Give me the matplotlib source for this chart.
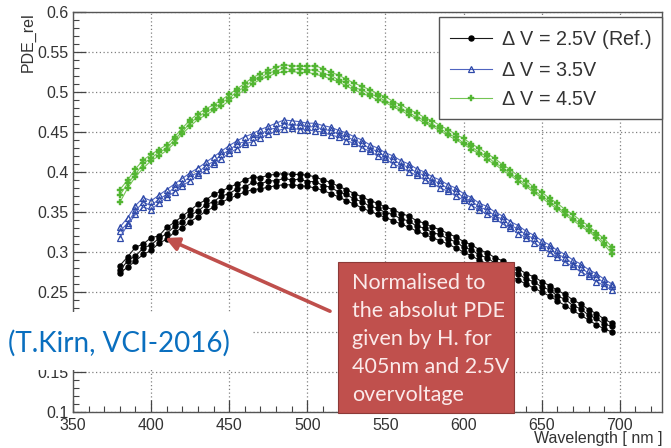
import matplotlib.pyplot as plt
from matplotlib.patches import Rectangle
from matplotlib.ticker import MultipleLocator

# wavelength scan, 5 nm steps
wavelength = list(range(380, 700, 5))

# three scans per overvoltage
pde_25 = [
    [0.283, 0.294, 0.306, 0.310, 0.318, 0.320, 0.331, 0.337,
     0.345, 0.352, 0.360, 0.365, 0.372, 0.376, 0.381, 0.385,
     0.390, 0.394, 0.393, 0.396, 0.397, 0.398, 0.397, 0.397,
     0.396, 0.394, 0.390, 0.387, 0.382, 0.378, 0.373, 0.369,
     0.364, 0.361, 0.356, 0.353, 0.348, 0.345, 0.339, 0.336,
     0.331, 0.328, 0.323, 0.319, 0.313, 0.309, 0.303, 0.299,
     0.293, 0.289, 0.283, 0.279, 0.273, 0.269, 0.263, 0.258,
     0.252, 0.247, 0.240, 0.235, 0.228, 0.223, 0.216, 0.211],
    [0.277, 0.289, 0.295, 0.305, 0.309, 0.317, 0.323, 0.332,
     0.337, 0.346, 0.351, 0.359, 0.363, 0.370, 0.373, 0.379,
     0.381, 0.387, 0.385, 0.389, 0.389, 0.392, 0.390, 0.391,
     0.388, 0.388, 0.383, 0.381, 0.375, 0.372, 0.366, 0.363,
     0.357, 0.355, 0.349, 0.347, 0.341, 0.339, 0.332, 0.330,
     0.324, 0.322, 0.316, 0.313, 0.306, 0.303, 0.296, 0.293,
     0.286, 0.283, 0.276, 0.273, 0.266, 0.263, 0.256, 0.253,
     0.245, 0.241, 0.233, 0.229, 0.221, 0.217, 0.210, 0.207],
    [0.274, 0.281, 0.289, 0.297, 0.302, 0.311, 0.316, 0.325,
     0.330, 0.338, 0.344, 0.351, 0.356, 0.362, 0.367, 0.371,
     0.375, 0.378, 0.379, 0.381, 0.383, 0.384, 0.384, 0.383,
     0.382, 0.380, 0.377, 0.373, 0.369, 0.364, 0.360, 0.355,
     0.351, 0.347, 0.343, 0.339, 0.335, 0.331, 0.326, 0.322,
     0.318, 0.314, 0.310, 0.305, 0.300, 0.295, 0.290, 0.285,
     0.280, 0.275, 0.270, 0.265, 0.260, 0.255, 0.250, 0.245,
     0.239, 0.233, 0.227, 0.221, 0.215, 0.209, 0.204, 0.200],
]

pde_35 = [
    [0.331, 0.343, 0.358, 0.368, 0.364, 0.371, 0.378, 0.385,
     0.392, 0.399, 0.405, 0.412, 0.419, 0.426, 0.433, 0.439,
     0.444, 0.448, 0.453, 0.457, 0.461, 0.465, 0.464, 0.463,
     0.461, 0.461, 0.458, 0.456, 0.452, 0.449, 0.444, 0.440,
     0.434, 0.430, 0.424, 0.420, 0.414, 0.410, 0.404, 0.400,
     0.394, 0.390, 0.384, 0.380, 0.373, 0.368, 0.361, 0.357,
     0.350, 0.345, 0.338, 0.333, 0.326, 0.321, 0.314, 0.309,
     0.302, 0.297, 0.290, 0.285, 0.278, 0.273, 0.266, 0.260],
    [0.326, 0.336, 0.352, 0.362, 0.358, 0.366, 0.372, 0.381,
     0.386, 0.395, 0.399, 0.408, 0.413, 0.422, 0.427, 0.435,
     0.438, 0.444, 0.447, 0.453, 0.455, 0.460, 0.458, 0.459,
     0.456, 0.457, 0.453, 0.452, 0.447, 0.445, 0.439, 0.436,
     0.429, 0.426, 0.419, 0.416, 0.409, 0.406, 0.399, 0.396,
     0.389, 0.386, 0.379, 0.376, 0.368, 0.364, 0.356, 0.353,
     0.345, 0.341, 0.333, 0.329, 0.321, 0.317, 0.309, 0.305,
     0.297, 0.293, 0.285, 0.281, 0.273, 0.269, 0.261, 0.257],
    [0.318, 0.334, 0.347, 0.356, 0.353, 0.361, 0.369, 0.375,
     0.383, 0.389, 0.396, 0.402, 0.410, 0.416, 0.424, 0.429,
     0.435, 0.438, 0.443, 0.447, 0.451, 0.454, 0.455, 0.453,
     0.453, 0.451, 0.450, 0.446, 0.444, 0.439, 0.436, 0.430,
     0.426, 0.420, 0.416, 0.410, 0.406, 0.400, 0.396, 0.390,
     0.386, 0.380, 0.376, 0.370, 0.365, 0.358, 0.353, 0.347,
     0.342, 0.335, 0.330, 0.323, 0.318, 0.311, 0.306, 0.299,
     0.294, 0.287, 0.282, 0.275, 0.270, 0.263, 0.258, 0.252],
]

pde_45 = [
    [0.378, 0.390, 0.404, 0.415, 0.422, 0.428, 0.434, 0.444,
     0.455, 0.465, 0.473, 0.479, 0.484, 0.490, 0.497, 0.504,
     0.511, 0.518, 0.523, 0.527, 0.531, 0.534, 0.533, 0.532,
     0.532, 0.533, 0.529, 0.525, 0.521, 0.516, 0.511, 0.507,
     0.503, 0.498, 0.494, 0.488, 0.484, 0.478, 0.474, 0.468,
     0.464, 0.458, 0.453, 0.447, 0.442, 0.435, 0.430, 0.423,
     0.417, 0.409, 0.403, 0.395, 0.389, 0.381, 0.375, 0.367,
     0.361, 0.353, 0.347, 0.339, 0.333, 0.324, 0.317, 0.306],
    [0.371, 0.386, 0.397, 0.411, 0.417, 0.425, 0.429, 0.441,
     0.450, 0.462, 0.468, 0.476, 0.479, 0.487, 0.492, 0.501,
     0.506, 0.515, 0.518, 0.524, 0.526, 0.530, 0.528, 0.529,
     0.527, 0.528, 0.523, 0.521, 0.515, 0.512, 0.505, 0.503,
     0.497, 0.495, 0.488, 0.485, 0.478, 0.475, 0.468, 0.465,
     0.458, 0.455, 0.447, 0.444, 0.436, 0.432, 0.424, 0.420,
     0.411, 0.406, 0.397, 0.392, 0.383, 0.378, 0.369, 0.364,
     0.355, 0.350, 0.341, 0.336, 0.327, 0.321, 0.311, 0.303],
    [0.362, 0.380, 0.394, 0.405, 0.414, 0.420, 0.427, 0.436,
     0.448, 0.457, 0.466, 0.471, 0.477, 0.482, 0.489, 0.496,
     0.503, 0.510, 0.516, 0.519, 0.524, 0.525, 0.526, 0.524,
     0.525, 0.522, 0.520, 0.516, 0.513, 0.507, 0.503, 0.498,
     0.495, 0.490, 0.487, 0.481, 0.477, 0.471, 0.467, 0.461,
     0.457, 0.451, 0.446, 0.440, 0.435, 0.428, 0.423, 0.415,
     0.410, 0.402, 0.396, 0.388, 0.382, 0.374, 0.368, 0.360,
     0.354, 0.346, 0.340, 0.332, 0.326, 0.318, 0.309, 0.298],
]

labels = ['$\\Delta$ V = 2.5V (Ref.)', '$\\Delta$ V = 3.5V', '$\\Delta$ V = 4.5V']

# ref point for the normalisation note (405 nm, 2.5 V)
note_point = (409, 0.3175)
note_tail = (514.5, 0.226)

plt.rcParams['font.family'] = ['Liberation Sans', 'DejaVu Sans']
plt.rcParams['mathtext.fontset'] = 'custom'
plt.rcParams['mathtext.rm'] = 'Liberation Sans'

fig = plt.figure(figsize=(6.71, 4.48), dpi=100)
ax = fig.add_axes([73 / 671, 36 / 448, 589 / 671, 400 / 448])

styles = [
    dict(color='#1a1a1a', marker='o', ms=3.6, mfc='black', mec='black'),
    dict(color='#4f64c0', marker='^', ms=4.2, mfc='none', mec='#2d48a8', mew=0.9),
    dict(color='#74c554', marker='P', ms=4.2, mfc='#52b532', mec='#52b532', mew=0.3),
]

for runs, label, st in zip([pde_25, pde_35, pde_45], labels, styles):
    for i, run in enumerate(runs):
        ax.plot(wavelength, run, lw=0.8, label=label if i == 0 else None, **st)

ax.set_xlim(350, 727)
ax.set_ylim(0.1, 0.6)
ax.xaxis.set_major_locator(MultipleLocator(50))
ax.xaxis.set_minor_locator(MultipleLocator(10))
ax.yaxis.set_minor_locator(MultipleLocator(0.01))
ax.set_yticks([0.1, 0.15, 0.2, 0.25, 0.3, 0.35, 0.4, 0.45, 0.5, 0.55, 0.6])
ax.set_yticklabels(['0.1', '0.15', '0.2', '0.25', '0.3', '0.35', '0.4', '0.45', '0.5', '0.55', '0.6'])
ax.tick_params(which='both', direction='in', colors='#444444', labelcolor='#333333',
               labelsize=11.5, top=False, right=False)
ax.tick_params(which='major', length=9, width=0.9)
ax.tick_params(which='minor', length=4.5, width=0.8)
ax.tick_params(axis='x', pad=4)
ax.tick_params(axis='y', pad=3)
for s in ax.spines.values():
    s.set_color('#555555')
    s.set_linewidth(1.0)
ax.grid(True, which='major', color='#808080', lw=0.9, ls=(0, (1, 2)))

ax.set_ylabel('PDE_rel', fontsize=11.5, color='#333333', loc='top', labelpad=1)
ax.set_xlabel('Wavelength [ nm ]', fontsize=11.5, color='#333333', loc='right', labelpad=-1)

leg = ax.legend(loc='upper right', bbox_to_anchor=(1.0, 1 - 5 / 400), borderaxespad=0,
                fancybox=False, edgecolor='#555555', fontsize=14.2, handlelength=2.1,
                handletextpad=0.45, labelspacing=0.5, borderpad=0.55, framealpha=1)
leg.get_frame().set_linewidth(1.0)
for t in leg.get_texts():
    t.set_color('#333333')

# normalisation note with arrow to the reference curve
ax.annotate('', xy=note_point, xytext=note_tail, annotation_clip=False, zorder=6,
            arrowprops=dict(arrowstyle='-|>', color='#bf4f4c', lw=2.6, mutation_scale=20,
                            shrinkA=0, shrinkB=0))

fig.add_artist(Rectangle((338 / 671, 35 / 448), 176 / 671, 151 / 448, transform=fig.transFigure,
                         facecolor='#c0504d', edgecolor='#8c3a38', lw=0.8, zorder=5))
fig.text(352 / 671, 175 / 448, 'Normalised to\nthe absolut PDE\ngiven by H. for\n405nm and 2.5V\novervoltage',
         ha='left', va='top', fontsize=15.5, color='#fbeaea', family='Lato', linespacing=1.5, zorder=6)

fig.add_artist(Rectangle((0, 78 / 448), 253 / 671, 58 / 448, transform=fig.transFigure,
                         facecolor='white', edgecolor='none', zorder=5))
fig.text(8 / 671, 105 / 448, '(T.Kirn, VCI-2016)', ha='left', va='center', fontsize=20,
         color='#0a6fbf', family='Lato', zorder=6)

fig.savefig('out.png', dpi=100)
